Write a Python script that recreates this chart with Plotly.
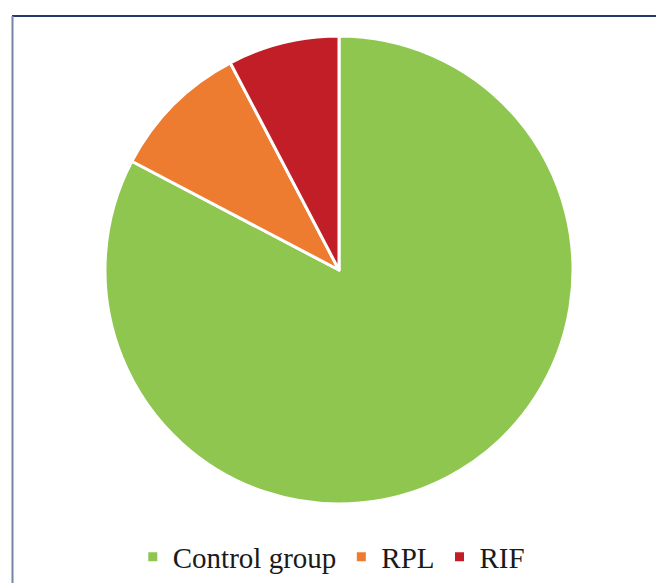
import plotly.graph_objects as go

# Group sizes shown in the pie
groups = ["Control group", "RPL", "RIF"]
counts = [86, 10, 8]
colors = ["#8FC650", "#EE7C30", "#C21E27"]

W, H = 656, 583

fig = go.Figure(
    go.Pie(
        labels=groups,
        values=counts,
        sort=False,
        direction="clockwise",
        rotation=0,
        textinfo="none",
        hoverinfo="label+value+percent",
        marker=dict(colors=colors, line=dict(color="white", width=3)),
        domain=dict(x=[105 / W, 573 / W], y=[77 / H, 549 / H]),
    )
)

# Frame lines along the top and left edges
fig.add_shape(type="line", xref="paper", yref="paper",
              x0=12 / W, x1=1, y0=1 - 16 / H, y1=1 - 16 / H,
              line=dict(color="#243a6b", width=2))
fig.add_shape(type="line", xref="paper", yref="paper",
              x0=12.5 / W, x1=12.5 / W, y0=0, y1=1 - 16 / H,
              line=dict(color="#7585a8", width=2))

fig.update_layout(
    width=W,
    height=H,
    margin=dict(l=0, r=0, t=0, b=0),
    paper_bgcolor="white",
    plot_bgcolor="white",
    showlegend=True,
    legend=dict(
        orientation="h",
        x=0.505,
        xanchor="center",
        y=(H - 557) / H,
        yanchor="middle",
        font=dict(family="Liberation Serif", size=29, color="#1a1a1a"),
        itemclick=False,
        tracegroupgap=0,
    ),
)

fig.write_html("out.html")
